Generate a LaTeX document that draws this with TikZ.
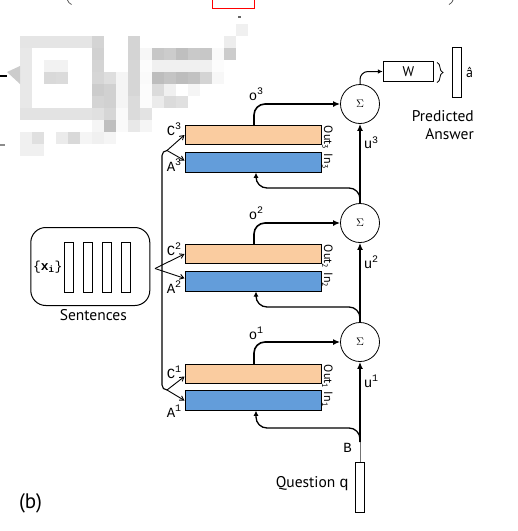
\documentclass[tikz,border=0pt]{standalone}
\usepackage{fontspec}
\setsansfont{PT Sans}
\newfontfamily\lblfont{Liberation Mono}
\usetikzlibrary{arrows.meta,decorations.pathreplacing}
\definecolor{outc}{RGB}{250,204,160}
\definecolor{inc}{RGB}{99,157,218}
\newcommand{\mysup}[1]{\raisebox{0.42em}{\fontsize{10}{10}\selectfont #1}}
\begin{document}
\begin{tikzpicture}[x=1pt,y=-1pt,
  box/.style={draw, line width=1pt, minimum width=136pt, minimum height=19.5pt, inner sep=0pt},
  outbox/.style={box, fill=outc},
  inbox/.style={box, fill=inc},
  sumc/.style={draw, circle, line width=0.8pt, minimum size=39pt, inner sep=0pt, font=\fontsize{11}{11}\selectfont},
  bar/.style={draw, line width=0.9pt, minimum width=9pt, minimum height=50pt, inner sep=0pt},
  lbl/.style={font=\lblfont\fontsize{14}{14}\selectfont, inner sep=0pt},
  sidelbl/.style={font=\sffamily\fontsize{12}{12}\selectfont, rotate=-90, inner sep=0pt, anchor=south west},
  txt/.style={font=\sffamily\fontsize{15.5}{18.5}\selectfont, inner sep=0pt},
  flow/.style={line width=1.6pt, -{Latex[length=7pt,width=6pt]}},
  feed/.style={line width=1.3pt, rounded corners=11pt, -{Latex[length=5pt,width=5pt]}},
  fork/.style={line width=0.9pt, -{Straight Barb[length=4pt,width=5pt]}}]
\useasboundingbox (0,0) rectangle (518,531);
% pixelated (blurred) region
\foreach \j/\r/\g in {0/0/10,1/0/10,2/0/10,3/0/10,4/0/10,5/0/10,6/0/17,9/0/17,17/0/7,18/-1/6,
  0/1/9,6/1/18,9/1/17,10/1/3,11/1/22,12/1/20,13/1/25,14/1/21,15/1/22,16/1/2,17/1/20,
  0/2/9,2/2/5,3/2/5,6/2/17,9/2/16,10/2/1,11/2/6,12/2/6,13/2/6,14/2/6,15/2/6,16/2/1,
  0/3/9,2/3/15,3/3/14,6/3/16,7/3/13,8/3/4,9/3/16,10/3/2,11/3/26,12/3/23,13/3/26,14/3/24,15/3/17,16/3/3,
  0/4/9,6/4/20,7/4/18,8/4/4,9/4/16,10/4/1,11/4/14,12/4/6,14/4/4,
  0/5/9,6/5/17,7/5/18,8/5/4,9/5/14,10/5/1,11/5/8,12/5/14,13/5/12,
  0/6/11,1/6/11,2/6/11,3/6/11,4/6/11,5/6/11,6/6/12,7/6/16,8/6/2,9/6/14,10/6/11,
  6/7/4,7/7/25,8/7/2,9/7/9,10/7/4,
  0/8/6,1/8/12,3/8/8,4/8/15,5/8/4,6/8/6,7/8/4,
  0/9/6,1/9/6}
  \fill[black!\g] ({20+12*\j},{36+12*\r}) rectangle ++(12,12);
\fill[black!20] (7,72) -- (20,66) -- (20,84) -- cycle;
\fill[black!60] (238,16) rectangle (241,18);
\draw[line width=1.5pt] (0,76) -- (7,76);
\draw[black!45, line width=1.5pt] (0,145) -- (5,145);
% top fragments
\draw[red, line width=0.9pt] (212.5,0) -- (212.5,8) -- (254.5,8) -- (254.5,0);
\draw[black!70, line width=0.7pt] (67.5,0) .. controls (68.5,2.5) .. (71.5,4.5);
\draw[black!70, line width=0.7pt] (453,0) .. controls (452,2.5) .. (449,4.5);

% memory boxes
\node[outbox] (out3) at (253,135) {};
\node[inbox]  (in3)  at (253,162.5) {};
\node[outbox] (out2) at (253,254) {};
\node[inbox]  (in2)  at (253,281.3) {};
\node[outbox] (out1) at (253,374) {};
\node[inbox]  (in1)  at (253,400.5) {};

% sums
\node[sumc] (s3) at (360,104) {$\Sigma$};
\node[sumc] (s2) at (360,223) {$\Sigma$};
\node[sumc] (s1) at (360,342) {$\Sigma$};

% output
\node[draw, line width=0.9pt, minimum width=50pt, minimum height=19.5pt, inner sep=0pt,
      font=\sffamily\fontsize{14}{14}\selectfont] (W) at (408.3,71.5) {W};
\node[bar] (ahat) at (457,72.3) {};
\node[font=\sffamily\fontsize{14}{14}\selectfont, inner sep=0pt] (ahatl) at (469.5,72) {â};
\node[txt, align=right, anchor=east] (pred) at (474,125) {Predicted\\Answer};

% question
\node[bar] (q) at (360,487.3) {};
\node[txt, anchor=east] (ql) at (349,484) {Question {\lblfont q}};

% sentences
\node[draw, rounded corners=15pt, line width=1pt, minimum width=119pt, minimum height=78pt, inner sep=0pt] (sent) at (90.3,266.5) {};
\node[bar] (x1) at (68.8,267.3) {};
\node[bar] (x2) at (87.5,267.3) {};
\node[bar] (x3) at (106.5,267.3) {};
\node[bar] (x4) at (125.5,267.3) {};
\node[lbl, font=\lblfont\fontsize{13}{13}\selectfont] (xl) at (47.7,266.7) {\{\textbf{x}\textsubscript{\textbf{i}}\}};
\node[txt] (sl) at (93.3,315) {Sentences};

% labels
\node[lbl] (c3) at (174,129.5) {C\mysup{3}};
\node[lbl] (a3) at (174,165.3) {A\mysup{3}};
\node[lbl] (c2) at (174,249) {C\mysup{2}};
\node[lbl] (a2) at (174,287) {A\mysup{2}};
\node[lbl] (c1) at (174,372.5) {C\mysup{1}};
\node[lbl] (a1) at (174,411) {A\mysup{1}};
\node[lbl] (o3) at (256,94) {o\mysup{3}};
\node[lbl] (o2) at (256,213.5) {o\mysup{2}};
\node[lbl] (o1) at (256,333.5) {o\mysup{1}};
\node[lbl] (u3) at (371,142.7) {u\mysup{3}};
\node[lbl] (u2) at (371,262) {u\mysup{2}};
\node[lbl] (u1) at (371,381.7) {u\mysup{1}};
\node[lbl] (bl) at (347.5,448.3) {B};

\node[sidelbl] (ol3) at ([xshift=0.5pt,yshift=-1pt]out3.north east) {Out\textsubscript{3}};
\node[sidelbl] (il3) at ([xshift=0.5pt,yshift=-1.5pt]in3.north east) {In\textsubscript{3}};
\node[sidelbl] (ol2) at ([xshift=0.5pt,yshift=-1pt]out2.north east) {Out\textsubscript{2}};
\node[sidelbl] (il2) at ([xshift=0.5pt,yshift=-1.5pt]in2.north east) {In\textsubscript{2}};
\node[sidelbl] (ol1) at ([xshift=0.5pt,yshift=-1pt]out1.north east) {Out\textsubscript{1}};
\node[sidelbl] (il1) at ([xshift=0.5pt,yshift=-1.5pt]in1.north east) {In\textsubscript{1}};

% coordinates
\coordinate (b3) at (167,150.5);
\coordinate (b1) at (167,390);
\coordinate (sb) at (155,268.5);
\coordinate (qb) at (360,442);
\coordinate (f1) at (256,428);
\coordinate (f2) at (256,307);
\coordinate (f3) at (256,188);

% bracket and forks
\draw[line width=1.1pt, rounded corners=5pt] (b3) -- (162,150.5) -- (162,390) -- (b1);
\draw[fork] (b3) -- (out3.west);
\draw[fork] (b3) -- ([yshift=2pt]in3.west);
\draw[fork] (sb) -- (out2.west);
\draw[fork] (sb) -- ([yshift=3pt]in2.west);
\draw[fork] (b1) -- ([yshift=-2.5pt]out1.west);
\draw[fork] (b1) -- (in1.west);

% o arrows
\draw[flow, rounded corners=11pt] ([xshift=1pt]out3.north) |- (s3.west);
\draw[flow, rounded corners=11pt] ([xshift=1pt]out2.north) |- (s2.west);
\draw[flow, rounded corners=11pt] ([xshift=1pt]out1.north) |- (s1.west);

% u path
\draw[black!55, line width=1pt] (q.north) -- (qb);
\draw[flow] (qb) -- (s1.south);
\draw[flow] (s1.north) -- (s2.south);
\draw[flow] (s2.north) -- (s3.south);
\draw[feed] (qb) |- (f1) -- (f1 |- in1.south);
\draw[feed] (s1.north) |- (f2) -- (f2 |- in2.south);
\draw[feed] (s2.north) |- (f3) -- (f3 |- in3.south);

% output arrow and brace
\draw[line width=1pt, rounded corners=8pt, -{Latex[length=5pt,width=4.5pt]}] (s3.north) |- (W.west);
\draw[decorate, decoration={brace, amplitude=6pt}, line width=0.8pt] (437,62.5) -- (437,82.5);

\node[font=\sffamily\fontsize{21}{21}\selectfont, inner sep=0pt] (blabel) at (30.5,503.5) {(b)};
\end{tikzpicture}
\end{document}
